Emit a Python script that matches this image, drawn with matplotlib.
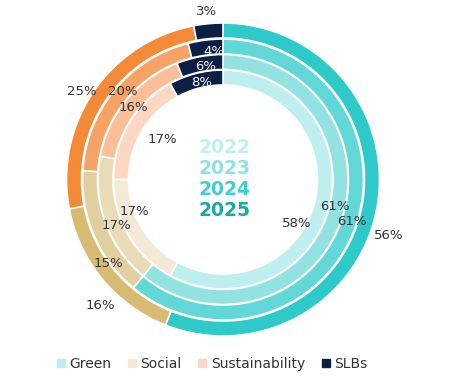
import matplotlib
matplotlib.use("Agg")
import matplotlib.pyplot as plt
from matplotlib.lines import Line2D

# Data: share of issuance by bond type, one ring per year (inner -> outer)
years = ["2022", "2023", "2024", "2025"]
categories = ["Green", "Social", "Sustainability", "SLBs"]
share_2022 = [58, 17, 17, 8]
share_2023 = [61, 17, 16, 6]
share_2024 = [61, 15, 20, 4]
share_2025 = [56, 16, 25, 3]
shares = [share_2022, share_2023, share_2024, share_2025]

# ring colours (inner -> outer), per category
green_shades = ["#bfeeee", "#93e2e2", "#62d7d7", "#2ec9c9"]
social_shades = ["#f3e9d6", "#eadbb7", "#e2cf9f", "#d7bb73"]
sust_shades = ["#fdd7c2", "#fbbf98", "#f8a366", "#f38a37"]
slb_colour = "#0e1f45"
year_colours = ["#c0efef", "#8fe1e1", "#3dd0cf", "#17aaa5"]

# layout in pixels, centre of the rings is the origin
W, H = 450, 385
cx, cy = 223, 179.5
outer_radius = [109.5, 125, 140.5, 156.5]
ring_width = 15

# label positions (dx, dy) relative to the centre, same order as shares
label_pos = [
    [(74, -44), (-89, -32), (-61, 40), (-21, 97)],
    [(112, -27), (-107, -46), (-90, 72), (-17, 113)],
    [(129, -42), (-115, -84), (-100, 88), (-9, 128)],
    [(166, -56), (-123, -126), (-141, 88), (-16, 168)],
]

fig = plt.figure(figsize=(W / 100, H / 100), dpi=100)
ax = fig.add_axes([0, 0, 1, 1])

for i, vals in enumerate(shares):
    cols = [green_shades[i], social_shades[i], sust_shades[i], slb_colour]
    ax.pie(vals, radius=outer_radius[i], startangle=90, counterclock=False,
           colors=cols,
           wedgeprops=dict(width=ring_width, edgecolor="white", linewidth=1.2))
    for j, v in enumerate(vals):
        dx, dy = label_pos[i][j]
        # SLB labels sitting on the navy blocks are white
        tc = "white" if (j == 3 and i < 3) else "#333333"
        ax.text(dx, dy, f"{v}%", ha="center", va="center", fontsize=9.5, color=tc)

for i, y in enumerate(years):
    ax.text(2, 32 - 21 * i, y, ha="center", va="center", fontsize=13.5,
            fontweight="bold", color=year_colours[i])

ax.set_xlim(-cx, W - cx)
ax.set_ylim(-(H - cy), cy)
ax.set_aspect("equal")
ax.axis("off")

legend_cols = [green_shades[0], social_shades[0], sust_shades[0], slb_colour]
handles = [Line2D([], [], linestyle="none", marker="s", markersize=5.5,
                  markerfacecolor=c, markeredgecolor=c) for c in legend_cols]
fig.legend(handles, categories, loc="center", bbox_to_anchor=(212 / W, 1 - 364 / H),
           ncol=4, frameon=False, fontsize=10, handlelength=0.6,
           handletextpad=0.3, columnspacing=1.2, labelcolor="#333333")

fig.savefig("out.png", dpi=100)
